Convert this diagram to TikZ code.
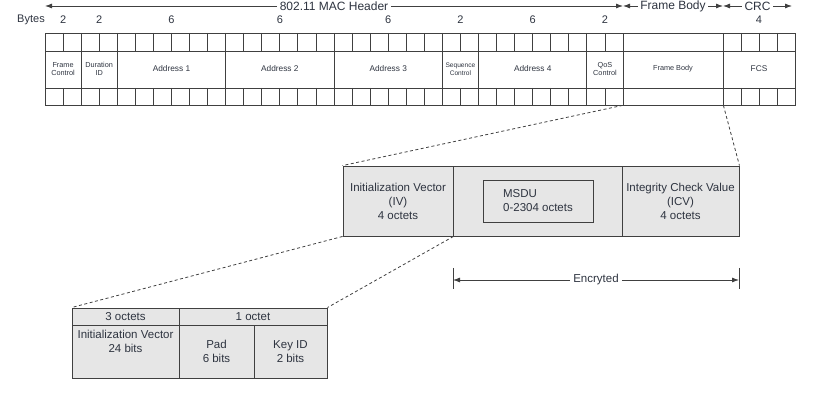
\documentclass[tikz,border=0pt]{standalone}
\usepackage{fontspec}
\setmainfont{Liberation Sans}
\usetikzlibrary{arrows.meta}
\definecolor{txt}{HTML}{2E3440}
\definecolor{ln}{HTML}{404040}
\definecolor{boxfill}{HTML}{E6E6E6}
\begin{document}
\begin{tikzpicture}[x=1pt,y=-1pt,
  field/.style={draw=ln, line width=0.8pt, minimum height=72pt, inner sep=0pt, align=center, text=txt, font=\fontsize{7.3}{8}\selectfont},
  bigfield/.style={field, font=\fontsize{8.3}{9}\selectfont},
  grid/.style={draw=ln, line width=0.8pt},
  hdr/.style={fill=white, inner sep=2.5pt, text=txt, font=\fontsize{12}{14}\selectfont},
  num/.style={text=txt, font=\fontsize{11}{13}\selectfont},
  tip/.style={draw=ln, line width=0.8pt, -{Latex[length=7pt,width=5pt]}},
  gbox/.style={draw=ln, line width=0.9pt, fill=boxfill, inner sep=0pt, text=txt, align=center, font=\fontsize{11.5}{14}\selectfont},
  dashlink/.style={draw=ln, line width=0.8pt, dash pattern=on 3pt off 2.5pt},
  lbl/.style={text=txt, align=center, font=\fontsize{11.5}{14}\selectfont}
]
\useasboundingbox (0,0) rectangle (824,411);

% ---------- top frame table ----------
\node[field, minimum width=36.125pt] (fc) at (63.06,69) {Frame\\Control};
\node[field, minimum width=36.125pt] (di) at (99.19,69) {Duration\\ID};
\node[bigfield, minimum width=108.375pt] (a1) at (171.44,69) {Address 1};
\node[bigfield, minimum width=108.375pt] (a2) at (279.81,69) {Address 2};
\node[bigfield, minimum width=108.375pt] (a3) at (388.19,69) {Address 3};
\node[field, minimum width=36.125pt, font=\fontsize{6.6}{7.5}\selectfont] (sc) at (460.44,69) {Sequence\\Control};
\node[bigfield, minimum width=108.375pt] (a4) at (532.69,69) {Address 4};
\node[field, minimum width=36.125pt] (qos) at (604.94,69) {QoS\\Control};
\node[field, minimum width=100pt] (fb) at (673,69) {Frame Body};
\node[bigfield, minimum width=72pt] (fcs) at (759,69) {FCS};

\draw[grid] (45,51) -- (795,51);
\draw[grid] (45,88) -- (795,88);
\foreach \k in {1,...,31} {
  \draw[grid] ({45+\k*18.0625},33) -- ++(0,18);
  \draw[grid] ({45+\k*18.0625},88) -- ++(0,17);
}
\foreach \k in {1,2,3} {
  \draw[grid] ({723+\k*18},33) -- ++(0,18);
  \draw[grid] ({723+\k*18},88) -- ++(0,17);
}

% byte counts
\node[num] (bytes) at (31,20) {Bytes};
\node[num] at (fc.center |- 0,20) {2};
\node[num] at (di.center |- 0,20) {2};
\node[num] at (a1.center |- 0,20) {6};
\node[num] at (a2.center |- 0,20) {6};
\node[num] at (a3.center |- 0,20) {6};
\node[num] at (sc.center |- 0,20) {2};
\node[num] at (a4.center |- 0,20) {6};
\node[num] at (qos.center |- 0,20) {2};
\node[num] at (fcs.center |- 0,20) {4};

% header span arrows
\coordinate (hl) at (45,6);
\coordinate (hm) at (623,6);
\coordinate (hb) at (723,6);
\coordinate (hr) at (792,6);
\node[hdr] (machdr) at (334,6) {802.11 MAC Header};
\node[hdr] (fbhdr) at (673,6) {Frame Body};
\node[hdr] (crchdr) at (757.5,6) {CRC};
\draw[tip] (machdr) -- (hl);
\draw[tip] (machdr) -- (hm);
\draw[tip] (fbhdr) -- (hm);
\draw[tip] (fbhdr) -- (hb);
\draw[tip] (crchdr) -- (hb);
\draw[tip] (crchdr) -- (hr);

% ---------- middle: encrypted frame body ----------
\node[gbox, minimum width=110pt, minimum height=70pt] (iv) at (398,201) {Initialization Vector\\(IV)\\4 octets};
\node[gbox, minimum width=169pt, minimum height=70pt] (msdubox) at (537.5,201) {};
\node[gbox, minimum width=117pt, minimum height=70pt] (icv) at (680.5,201) {Integrity Check Value\\(ICV)\\4 octets};
\node[draw=ln, line width=0.9pt, minimum width=110pt, minimum height=42pt, inner sep=0pt] (msdu) at (538,201) {};
\node[lbl, align=left] (msdutext) at (msdu.center) {MSDU\\0-2304 octets};

\draw[dashlink] (fb.south west) -- (iv.north west);
\draw[dashlink] (fb.south east) -- (icv.north east);

% encrypted span
\coordinate (el) at (453,280);
\coordinate (er) at (739,280);
\draw[grid] (453,268) -- (453,289);
\draw[grid] (739,268) -- (739,289);
\node[lbl, fill=white, inner sep=3pt] (enc) at (596,280) {Encryted};
\draw[tip] (enc) -- (el);
\draw[tip] (enc) -- (er);

% ---------- bottom: IV detail ----------
\node[gbox, minimum width=107pt, minimum height=17pt] (oct3) at (125.5,316.5) {3 octets};
\node[gbox, minimum width=148pt, minimum height=17pt] (oct1) at (253,316.5) {1 octet};
\node[gbox, minimum width=107pt, minimum height=53pt] (ivbits) at (125.5,351.5) {};
\node[lbl, anchor=north] (ivtext) at (125.5,326.5) {Initialization Vector\\24 bits};
\node[gbox, minimum width=75pt, minimum height=53pt] (pad) at (216.5,351.5) {Pad\\6 bits};
\node[gbox, minimum width=73pt, minimum height=53pt] (keyid) at (290.5,351.5) {Key ID\\2 bits};

\draw[dashlink] (iv.south west) -- (oct3.north west);
\draw[dashlink] (iv.south east) -- (oct1.north east);

\end{tikzpicture}
\end{document}
